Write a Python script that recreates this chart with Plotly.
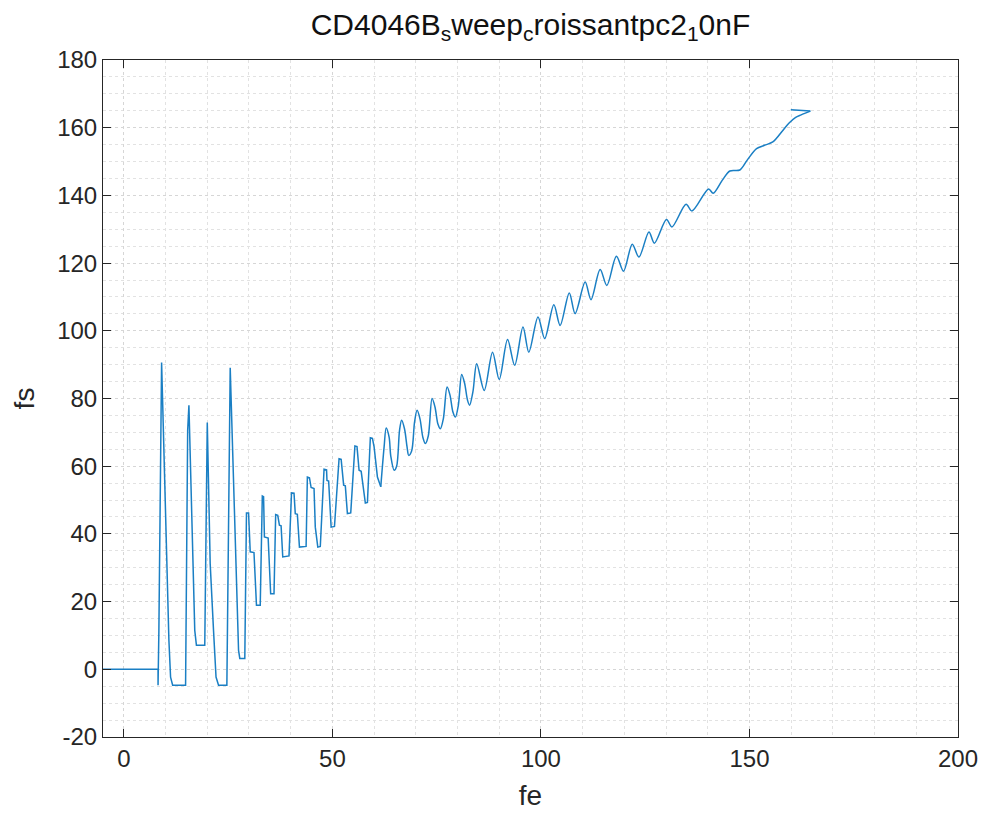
import plotly.graph_objects as go

# ---- data (fe in, fs out) ----
# stepped start-up region (drawn with straight segments)
fe_step = [-5, 8.2, 8.2, 8.4, 9.05, 9.6, 10.4, 10.8, 11.2, 11.7, 14.8, 15.3, 15.6, 16.4, 17.0, 17.4,
           19.4, 20.0, 20.7, 21.5, 22.1, 22.7, 24.7, 25.5, 26.3, 26.5, 27.5, 27.8, 29.0, 29.4, 29.9,
           30.3, 31.2, 31.8, 32.7, 33.2, 33.5, 33.7, 34.6, 35.2, 36.0, 36.4, 36.9, 37.3, 37.7, 38.1,
           39.6, 40.2, 40.8, 41.1, 41.6, 42.1, 43.7, 44.0, 44.5, 44.9, 45.6, 45.9, 46.5, 47.1, 48.0,
           48.6, 48.7, 49.1, 49.7, 50.5, 51.6, 52.1, 52.7, 53.1, 53.6, 54.4, 55.4, 55.9, 56.4, 56.9,
           57.9, 58.4, 59.1, 59.6, 60.0, 60.8, 61.6]
fs_step = [0, 0, -4.7, 11.5, 90.6, 65.7, 21.4, 8.6, -2.3, -4.7, -4.7, 70.6, 78.0, 41.1, 11.5, 7.1,
           7.1, 72.9, 31.2, 11.5, -2.3, -4.7, -4.7, 89.1, 55.3, 41.0, 5.6, 3.2, 3.2, 46.2, 46.2,
           34.7, 34.5, 18.9, 18.9, 51.2, 51.0, 39.1, 38.8, 22.3, 22.3, 45.7, 45.5, 42.6, 42.4, 33.2,
           33.5, 52.1, 52.0, 46.0, 45.8, 36.1, 36.3, 56.8, 56.6, 53.7, 53.4, 42.0, 36.1, 36.3, 59.1,
           58.9, 55.8, 55.6, 42.0, 42.2, 62.2, 62.0, 54.4, 54.2, 46.0, 46.2, 66.0, 65.8, 58.8, 58.5,
           49.1, 49.3, 68.4, 68.2, 65.7, 56.8, 53.9]

# smoother oscillating region (drawn as a spline)
fe_wave = [61.6, 62.4, 62.9, 63.6, 64.0, 64.8, 65.4, 66.1, 66.6, 67.3, 67.9, 68.3, 69.0, 69.7, 70.3,
           71.0, 71.7, 72.3, 73.0, 73.9, 74.6, 75.3, 75.9, 76.6, 77.5, 78.2, 78.9, 79.5, 80.2, 81.0,
           81.7, 82.4, 82.9, 83.7, 84.6, 86.4, 88.4, 90.0, 92.0, 93.7, 95.7, 97.1, 99.3, 100.9, 103.1,
           104.6, 106.8, 108.2, 110.6, 112.0, 114.2, 115.8, 118.1, 119.8, 121.9, 123.5, 125.9, 127.2,
           130.1, 131.4, 134.8, 136.2, 140.2, 141.3, 143.5, 145.3, 147.7, 149.5, 151.7, 153.6, 155.6,
           158.0, 159.5, 161.0, 162.4, 164.6]
fs_wave = [53.9, 65.7, 71.3, 68.6, 63.0, 58.8, 60.0, 70.6, 73.6, 71.0, 65.7, 63.2, 64.5, 73.0, 76.5,
           74.0, 68.5, 66.7, 69.0, 80.0, 77.5, 72.5, 71.1, 74.0, 83.4, 81.0, 76.0, 74.5, 78.0, 87.1,
           84.5, 79.5, 78.0, 82.0, 90.3, 82.4, 93.7, 85.6, 97.4, 89.8, 101.1, 93.7, 104.1, 97.7, 107.7,
           101.6, 111.2, 105.1, 114.4, 109.2, 118.1, 113.4, 122.0, 117.6, 125.6, 121.8, 129.2, 125.9,
           132.9, 130.7, 137.4, 135.4, 141.9, 140.6, 144.5, 147.2, 147.5, 150.5, 153.8, 154.8, 155.8,
           159.2, 161.4, 163.0, 163.8, 164.9]

# final return segment
fe_end = [164.6, 159.9]
fs_end = [164.9, 165.3]

x_ticks = [0, 50, 100, 150, 200]
y_ticks = [-20, 0, 20, 40, 60, 80, 100, 120, 140, 160, 180]

line_color = "#1a7fc4"
FONT = "Liberation Sans, Arial, Helvetica, sans-serif"

fig = go.Figure()
fig.add_trace(go.Scatter(x=fe_step, y=fs_step, mode="lines",
                         line=dict(color=line_color, width=1.5), showlegend=False))
fig.add_trace(go.Scatter(x=fe_wave, y=fs_wave, mode="lines",
                         line=dict(color=line_color, width=1.5, shape="spline", smoothing=0.9),
                         showlegend=False))
fig.add_trace(go.Scatter(x=fe_end, y=fs_end, mode="lines",
                         line=dict(color=line_color, width=1.5), showlegend=False))

axis_common = dict(
    showline=True, linecolor="#262626", linewidth=1, mirror="ticks",
    ticks="inside", ticklen=8, tickcolor="#262626", tickwidth=1,
    showgrid=True, gridcolor="#d6d6d6", griddash="dot", gridwidth=1,
    zeroline=False,
    tickfont=dict(family=FONT, size=24, color="#262626"),
)

fig.update_layout(
    width=990, height=821,
    margin=dict(l=103, r=24, t=60, b=84),
    paper_bgcolor="white", plot_bgcolor="white",
    title=dict(text="CD4046B<sub>s</sub>weep<sub>c</sub>roissantpc2<sub>1</sub>0nF",
               x=0.5, xref="paper", xanchor="center",
               y=1 - 24 / 821, yref="container", yanchor="middle",
               font=dict(family=FONT, size=30, color="#111111")),
    xaxis=dict(range=[-5, 200], tickvals=x_ticks, ticktext=[str(v) for v in x_ticks],
               minor=dict(dtick=10, tick0=0, showgrid=True, gridcolor="#e2e2e2", griddash="dot"),
               title=dict(text="fe", font=dict(family=FONT, size=28, color="#262626"), standoff=14),
               **axis_common),
    yaxis=dict(range=[-20, 180], tickvals=y_ticks, ticktext=[str(v) for v in y_ticks],
               minor=dict(dtick=5, tick0=0, showgrid=True, gridcolor="#e2e2e2", griddash="dot"),
               title=dict(text="fs", font=dict(family=FONT, size=28, color="#262626"), standoff=14),
               **axis_common),
)

fig.write_html("out.html")
